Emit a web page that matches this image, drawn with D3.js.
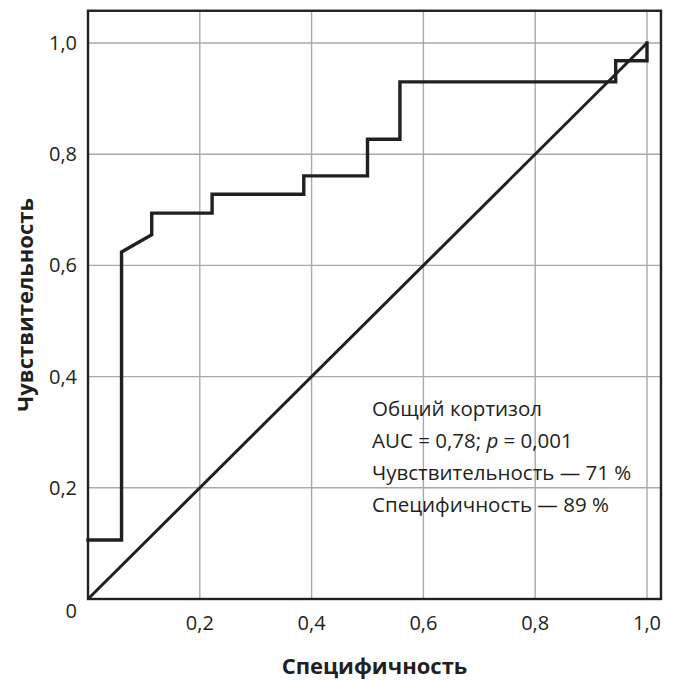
<!DOCTYPE html>
<html lang="ru">
<head>
<meta charset="UTF-8">
<title>ROC</title>
<script src="https://cdn.jsdelivr.net/npm/d3@7"></script>
<style>
  body { margin: 0; background: #fff; }
  svg text { font-family: "Open Sans", "Noto Sans", sans-serif; fill: #231f20; }
</style>
</head>
<body>
<div id="chart"></div>
<script>
// ROC curve points (1 - specificity, sensitivity)
const rocX = [0, 0.06, 0.06, 0.114, 0.114, 0.222, 0.222, 0.386, 0.386, 0.50, 0.50, 0.558, 0.558, 0.944, 0.944, 1.0, 1.0];
const rocY = [0.106, 0.106, 0.624, 0.655, 0.694, 0.694, 0.728, 0.728, 0.761, 0.761, 0.827, 0.827, 0.93, 0.93, 0.968, 0.968, 1.0];
const refLine = [0, 1];
const xTicks = [0.2, 0.4, 0.6, 0.8, 1.0];
const yTicks = [0, 0.2, 0.4, 0.6, 0.8, 1.0];
const legendLines = ["Общий кортизол", "AUC = 0,78; p = 0,001", "Чувствительность — 71 %", "Специфичность — 89 %"];

const W = 673, H = 680;
const fmt = d => d3.format(".1f")(d).replace(".", ",");

const x = d3.scaleLinear().domain([0, 1]).range([88, 647]);
const y = d3.scaleLinear().domain([0, 1]).range([599, 43]);
const xMax = 1.025, yMax = 1.058;

const svg = d3.select("#chart").append("svg")
    .attr("width", W).attr("height", H);

// grid
svg.append("g").selectAll("line").data(xTicks).enter().append("line")
    .attr("x1", d => x(d)).attr("x2", d => x(d))
    .attr("y1", y(0)).attr("y2", y(yMax))
    .attr("stroke", "#a7a9ac").attr("stroke-width", 1.4);
svg.append("g").selectAll("line").data(yTicks.filter(d => d > 0)).enter().append("line")
    .attr("x1", x(0)).attr("x2", x(xMax))
    .attr("y1", d => y(d)).attr("y2", d => y(d))
    .attr("stroke", "#a7a9ac").attr("stroke-width", 1.4);

// frame
svg.append("rect")
    .attr("x", x(0)).attr("y", y(yMax))
    .attr("width", x(xMax) - x(0)).attr("height", y(0) - y(yMax))
    .attr("fill", "none").attr("stroke", "#231f20").attr("stroke-width", 2.4);

// diagonal
svg.append("path")
    .attr("d", d3.line()(refLine.map(v => [x(v), y(v)])))
    .attr("fill", "none").attr("stroke", "#231f20").attr("stroke-width", 3);

// ROC curve
const line = d3.line().x(d => x(d[0])).y(d => y(d[1]));
svg.append("path")
    .datum(rocX.map((v, i) => [v, rocY[i]]))
    .attr("d", line)
    .attr("fill", "none").attr("stroke", "#231f20").attr("stroke-width", 3.4)
    .attr("stroke-linejoin", "miter").attr("stroke-linecap", "square");

// tick labels
svg.append("g").selectAll("text").data(xTicks).enter().append("text")
    .attr("x", d => x(d)).attr("y", 630)
    .attr("text-anchor", "middle").attr("font-size", 20)
    .text(fmt);
svg.append("g").selectAll("text").data(yTicks).enter().append("text")
    .attr("x", 77).attr("y", d => y(d) + (d === 0 ? 12 : 0))
    .attr("dy", "0.35em")
    .attr("text-anchor", "end").attr("font-size", 20)
    .text(d => d === 0 ? "0" : fmt(d));

// axis titles
svg.append("text")
    .attr("x", (x(0) + x(xMax)) / 2).attr("y", 674)
    .attr("text-anchor", "middle").attr("font-size", 22).attr("font-weight", "bold")
    .text("Специфичность");
svg.append("text")
    .attr("transform", "translate(33," + (y(0) + y(yMax)) / 2 + ") rotate(-90)")
    .attr("text-anchor", "middle").attr("font-size", 22).attr("font-weight", "bold")
    .text("Чувствительность");

// legend
const leg = svg.append("g").attr("font-size", 20.5);
legendLines.forEach((t, i) => {
    const tx = leg.append("text").attr("x", 372).attr("y", 416 + i * 32);
    if (t.indexOf("p =") >= 0) {
        const parts = t.split("p");
        tx.append("tspan").text(parts[0]);
        tx.append("tspan").attr("font-style", "italic").text("p");
        tx.append("tspan").text(parts[1]);
    } else {
        tx.text(t);
    }
});
</script>
</body>
</html>
